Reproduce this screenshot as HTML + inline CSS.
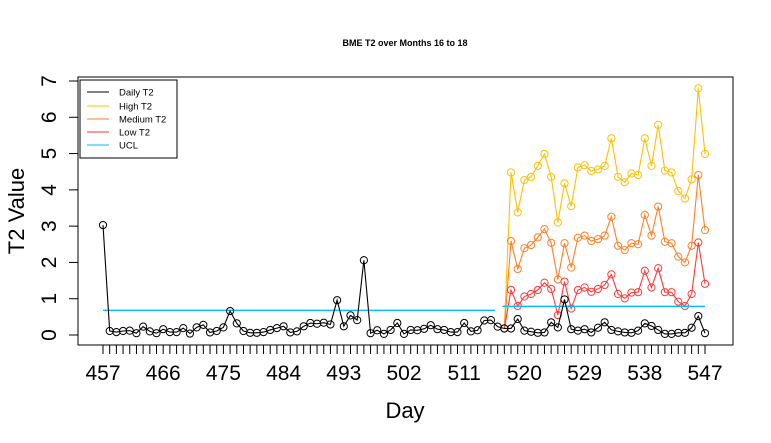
<!DOCTYPE html>
<html><head><meta charset="utf-8"><style>
body{margin:0;background:#fff}
svg{display:block;font-family:"Liberation Sans",Arial,sans-serif}
</style></head><body>
<svg id="chart" width="771" height="443" viewBox="0 0 771 443">
<rect width="771" height="443" fill="#fff"/>
<text x="405" y="46" text-anchor="middle" font-size="9" font-weight="bold">BME T2 over Months 16 to 18</text>
<rect x="78" y="77" width="655" height="268" fill="none" stroke="#000"/>
<g id="xaxis"></g>
<g id="yaxis"></g>
<text x="405" y="418" text-anchor="middle" font-size="22">Day</text>
<text transform="translate(24,211) rotate(-90)" text-anchor="middle" font-size="22">T2 Value</text>
<g id="series"></g>
<g>
<rect x="80" y="80" width="97" height="78" fill="#fff" stroke="#000"/>
<line x1="87" y1="92" x2="109" y2="92" stroke="#000"/>
<text x="119" y="95.5" font-size="9.5">Daily T2</text>
<line x1="87" y1="106" x2="109" y2="106" stroke="#FFC000"/>
<text x="119" y="109.5" font-size="9.5">High T2</text>
<line x1="87" y1="119" x2="109" y2="119" stroke="#FF7F27"/>
<text x="119" y="122.5" font-size="9.5">Medium T2</text>
<line x1="87" y1="132" x2="109" y2="132" stroke="#FF3030"/>
<text x="119" y="135.5" font-size="9.5">Low T2</text>
<line x1="87" y1="145" x2="109" y2="145" stroke="#00BFFF"/>
<text x="119" y="148.5" font-size="9.5">UCL</text>
</g>
</svg>
<script>
const dailyStart = 457;
const daily = [3.03,0.11,0.08,0.11,0.12,0.05,0.23,0.10,0.05,0.16,0.08,0.08,0.19,0.04,0.21,0.28,0.07,0.11,0.21,0.66,0.32,0.11,0.06,0.06,0.08,0.14,0.19,0.24,0.07,0.10,0.24,0.33,0.31,0.34,0.29,0.96,0.24,0.54,0.41,2.06,
0.05,0.13,0.03,0.14,0.33,0.03,0.14,0.13,0.17,0.27,0.16,0.14,0.08,0.08,0.33,0.10,0.13,0.40,0.41,
0.23,0.18,0.18,0.44,0.12,0.09,0.06,0.07,0.35,0.21,0.98,0.16,0.12,0.16,0.07,0.20,0.35,0.14,0.10,0.07,0.06,0.12,0.32,0.25,0.14,0.03,0.03,0.06,0.06,0.20,0.52,0.05];
const colorStart = 517;
const highT2 = [0.18,4.48,3.38,4.27,4.36,4.66,4.99,4.36,3.10,4.18,3.55,4.62,4.68,4.52,4.56,4.66,5.42,4.36,4.21,4.45,4.41,5.42,4.66,5.79,4.53,4.48,3.97,3.76,4.29,6.80,4.99];
const mediumT2 = [0.18,2.59,1.82,2.39,2.48,2.69,2.92,2.54,1.53,2.53,1.86,2.68,2.74,2.59,2.64,2.74,3.26,2.46,2.34,2.53,2.50,3.31,2.74,3.54,2.57,2.53,2.16,2.00,2.46,4.41,2.89];
const lowT2 = [0.18,1.24,0.80,1.06,1.13,1.24,1.44,1.27,0.55,1.47,0.73,1.24,1.31,1.19,1.27,1.38,1.67,1.13,1.01,1.17,1.18,1.77,1.31,1.84,1.18,1.18,0.92,0.80,1.13,2.55,1.41];
const uclDays = [[457,515.6],[516.7,547]];
const uclValues = [0.68,0.79];
const xTicks = [457,466,475,484,493,502,511,520,529,538,547];
const yTicks = [0,1,2,3,4,5,6,7];

const NS = "http://www.w3.org/2000/svg";
const X = d => 103 + (d - 457) * (602 / 90);
const Y = v => 335 - v * (254 / 7);
function mk(tag, attrs, parent) {
  const e = document.createElementNS(NS, tag);
  for (const k in attrs) e.setAttribute(k, attrs[k]);
  parent.appendChild(e);
  return e;
}
const xa = document.getElementById('xaxis');
const ya = document.getElementById('yaxis');
const sg = document.getElementById('series');

let ax = mk('line', {x1: X(457), y1: 345, x2: X(547), y2: 345, stroke: '#000'}, xa);


for (let d = 457; d <= 547; d++) {
  const t = mk('line', {x1: X(d), y1: 345, x2: X(d), y2: 354, stroke: '#000'}, xa);
  
  
}
xTicks.forEach(d => {
  const t = mk('text', {x: X(d), y: 380, 'text-anchor': 'middle', 'font-size': 21}, xa);
  t.textContent = d;
  
  
});
let ay = mk('line', {x1: 78, y1: Y(0), x2: 78, y2: Y(7), stroke: '#000'}, ya);


yTicks.forEach(v => {
  const t = mk('line', {x1: 69, y1: Y(v), x2: 78, y2: Y(v), stroke: '#000'}, ya);
  
  
  const l = mk('text', {transform: `translate(56,${Y(v)}) rotate(-90)`, 'text-anchor': 'middle', 'font-size': 21}, ya);
  l.textContent = v;
  
  
});

function series(vals, start, color, name) {
  const g = mk('g', {}, sg);
  
  
  const pts = vals.map((v, i) => X(start + i).toFixed(2) + ',' + Y(v).toFixed(2)).join(' ');
  const pl = mk('polyline', {points: pts, fill: 'none', stroke: color, 'stroke-width': 1.1}, g);
  
  
  vals.forEach((v, i) => {
    const c = mk('circle', {cx: X(start + i), cy: Y(v), r: 3.6, fill: 'none', stroke: color, 'stroke-width': 1}, g);
    
    
  });
}
series(highT2, colorStart, '#FFC000', 'high-t2');
series(mediumT2, colorStart, '#FF7F27', 'medium-t2');
series(lowT2, colorStart, '#FF3A3A', 'low-t2');
uclDays.forEach((r, i) => {
  const l = mk('line', {x1: X(r[0]), y1: Y(uclValues[i]), x2: X(r[1]), y2: Y(uclValues[i]), stroke: '#00BFFF', 'stroke-width': 1.3}, sg);
  
  
});
series(daily, dailyStart, '#000', 'daily-t2');
</script>
</body></html>
